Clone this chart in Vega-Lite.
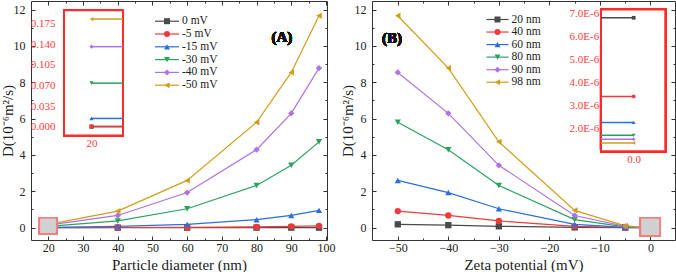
{
  "$schema": "https://vega.github.io/schema/vega-lite/v6.json",
  "padding": 0,
  "data": {"values": [
    {"d":20,"z":0,"D":0.00000681,"zl":"0 mV","dl":"20 nm"},
    {"d":40,"z":0,"D":0.00000339,"zl":"0 mV","dl":"40 nm"},
    {"d":60,"z":0,"D":0.00000226,"zl":"0 mV","dl":"60 nm"},
    {"d":80,"z":0,"D":0.0000017,"zl":"0 mV","dl":"80 nm"},
    {"d":90,"z":0,"D":0.00000153,"zl":"0 mV","dl":"90 nm"},
    {"d":98,"z":0,"D":0.00000137,"zl":"0 mV","dl":"98 nm"},
    {"d":20,"z":-5,"D":0.0005,"zl":"-5 mV","dl":"20 nm"},
    {"d":40,"z":-5,"D":0.008,"zl":"-5 mV","dl":"40 nm"},
    {"d":60,"z":-5,"D":0.02,"zl":"-5 mV","dl":"60 nm"},
    {"d":80,"z":-5,"D":0.04,"zl":"-5 mV","dl":"80 nm"},
    {"d":90,"z":-5,"D":0.07,"zl":"-5 mV","dl":"90 nm"},
    {"d":98,"z":-5,"D":0.1,"zl":"-5 mV","dl":"98 nm"},
    {"d":20,"z":-15,"D":0.014,"zl":"-15 mV","dl":"20 nm"},
    {"d":40,"z":-15,"D":0.065,"zl":"-15 mV","dl":"40 nm"},
    {"d":60,"z":-15,"D":0.18,"zl":"-15 mV","dl":"60 nm"},
    {"d":80,"z":-15,"D":0.44,"zl":"-15 mV","dl":"80 nm"},
    {"d":90,"z":-15,"D":0.67,"zl":"-15 mV","dl":"90 nm"},
    {"d":98,"z":-15,"D":0.95,"zl":"-15 mV","dl":"98 nm"},
    {"d":20,"z":-30,"D":0.074,"zl":"-30 mV","dl":"20 nm"},
    {"d":40,"z":-30,"D":0.37,"zl":"-30 mV","dl":"40 nm"},
    {"d":60,"z":-30,"D":1.04,"zl":"-30 mV","dl":"60 nm"},
    {"d":80,"z":-30,"D":2.32,"zl":"-30 mV","dl":"80 nm"},
    {"d":90,"z":-30,"D":3.43,"zl":"-30 mV","dl":"90 nm"},
    {"d":98,"z":-30,"D":4.72,"zl":"-30 mV","dl":"98 nm"},
    {"d":20,"z":-40,"D":0.136,"zl":"-40 mV","dl":"20 nm"},
    {"d":40,"z":-40,"D":0.67,"zl":"-40 mV","dl":"40 nm"},
    {"d":60,"z":-40,"D":1.93,"zl":"-40 mV","dl":"60 nm"},
    {"d":80,"z":-40,"D":4.29,"zl":"-40 mV","dl":"80 nm"},
    {"d":90,"z":-40,"D":6.29,"zl":"-40 mV","dl":"90 nm"},
    {"d":98,"z":-40,"D":8.78,"zl":"-40 mV","dl":"98 nm"},
    {"d":20,"z":-50,"D":0.183,"zl":"-50 mV","dl":"20 nm"},
    {"d":40,"z":-50,"D":0.91,"zl":"-50 mV","dl":"40 nm"},
    {"d":60,"z":-50,"D":2.6,"zl":"-50 mV","dl":"60 nm"},
    {"d":80,"z":-50,"D":5.8,"zl":"-50 mV","dl":"80 nm"},
    {"d":90,"z":-50,"D":8.54,"zl":"-50 mV","dl":"90 nm"},
    {"d":98,"z":-50,"D":11.66,"zl":"-50 mV","dl":"98 nm"}
  ]},
  "spacing": 5,
  "hconcat": [
    {
      "width": 296, "height": 239,
      "layer": [
        {"mark": {"type": "point", "opacity": 0},
         "encoding": {
           "x": {"datum": 20, "type": "quantitative", "scale": {"domain": [15, 100.3], "nice": false, "zero": false},
                 "axis": {"orient": "bottom", "values": [20,30,40,50,60,70,80,90,100], "tickSize": -4, "labelPadding": 6, "labelOverlap": false, "labelFlush": false, "title": "Particle diameter (nm)", "titlePadding": 4}},
           "y": {"datum": 0, "type": "quantitative", "scale": {"domain": [-0.68, 12.47], "nice": false, "zero": false},
                 "axis": {"orient": "left", "values": [0,2,4,6,8,10,12], "tickSize": -4, "labelPadding": 10, "labelOverlap": false, "title": "D(10⁻⁶m²/s)", "titleX": -15.5}}
         }},
        {
          "layer": [
            {"mark": {"type": "line", "strokeWidth": 1.2},
             "encoding": {
               "x": {"field": "d", "type": "quantitative", "scale": {"domain": [15, 100.3], "nice": false, "zero": false}, "axis": null},
               "y": {"field": "D", "type": "quantitative", "scale": {"domain": [-0.68, 12.47], "nice": false, "zero": false}, "axis": null},
               "color": {"field": "zl", "type": "nominal",
                         "scale": {"domain": ["0 mV","-5 mV","-15 mV","-30 mV","-40 mV","-50 mV"], "range": ["#4a4a4a","#f03a3a","#2a6fdb","#2ca25f","#b070e6","#d19e1c"]},
                         "legend": null}
             }},
            {"mark": {"type": "point", "filled": true, "size": 40, "opacity": 1},
             "encoding": {
               "x": {"field": "d", "type": "quantitative", "axis": null},
               "y": {"field": "D", "type": "quantitative", "axis": null},
               "color": {"field": "zl", "type": "nominal", "legend": null},
               "shape": {"field": "zl", "type": "nominal", "scale": {"domain": ["0 mV","-5 mV","-15 mV","-30 mV","-40 mV","-50 mV"], "range": ["square","circle","triangle-up","triangle-down","diamond","triangle-left"]}, "legend": null}
             }},
            {"mark": {"type": "rect", "fill": "#d0d0d0", "fillOpacity": 0.6, "stroke": "#f08080", "strokeWidth": 1.5},
             "encoding": {
               "x": {"datum": 17.4, "type": "quantitative", "axis": null}, "x2": {"datum": 22.4},
               "y": {"datum": -0.33, "type": "quantitative", "axis": null}, "y2": {"datum": 0.55}
             }},
            {"mark": {"type": "text", "font": "Liberation Serif", "fontSize": 15, "fontWeight": "bold", "fill": "#111", "stroke": null},
             "encoding": {
               "x": {"datum": 87.3, "type": "quantitative", "axis": null},
               "y": {"datum": 10.49, "type": "quantitative", "axis": null},
               "text": {"value": "(A)"}
             }}
          ]
        },
        {"mark": {"type": "point", "opacity": 0},
         "encoding": {
           "x": {"datum": 20, "type": "quantitative", "scale": {"domain": [15, 100.3], "nice": false, "zero": false},
                 "axis": {"orient": "top", "values": [20,30,40,50,60,70,80,90,100], "tickSize": -4, "labels": false, "title": null}},
           "y": {"datum": 0, "type": "quantitative", "scale": {"domain": [-0.68, 12.47], "nice": false, "zero": false},
                 "axis": {"orient": "right", "values": [0,2,4,6,8,10,12], "tickSize": -4, "labels": false, "title": null}}
         }},
        {"mark": {"type": "point", "opacity": 0},
         "encoding": {
           "x": {"datum": 20, "type": "quantitative", "scale": {"domain": [15, 100.3], "nice": false, "zero": false},
                 "axis": {"orient": "bottom", "values": [25,35,45,55,65,75,85,95], "tickSize": -2, "labels": false, "domain": false, "title": null}},
           "y": {"datum": 0, "type": "quantitative", "scale": {"domain": [-0.68, 12.47], "nice": false, "zero": false},
                 "axis": {"orient": "left", "values": [1,3,5,7,9,11], "tickSize": -2, "labels": false, "domain": false, "title": null}}
         }},
        {"mark": {"type": "point", "opacity": 0},
         "encoding": {
           "x": {"datum": 20, "type": "quantitative", "scale": {"domain": [15, 100.3], "nice": false, "zero": false},
                 "axis": {"orient": "top", "values": [25,35,45,55,65,75,85,95], "tickSize": -2, "labels": false, "domain": false, "title": null}},
           "y": {"datum": 0, "type": "quantitative", "scale": {"domain": [-0.68, 12.47], "nice": false, "zero": false},
                 "axis": {"orient": "right", "values": [1,3,5,7,9,11], "tickSize": -2, "labels": false, "domain": false, "title": null}}
         }},
        {
          "transform": [{"filter": "datum.d == 20"}],
          "layer": [
            {"mark": {"type": "rule", "strokeWidth": 1.2},
             "encoding": {
               "x": {"datum": 0, "type": "quantitative", "scale": {"domain": [0, 1], "range": [124, 148]}, "axis": null},
               "x2": {"datum": 1},
               "y": {"field": "zl", "type": "nominal", "scale": {"type": "point", "padding": 0, "domain": ["0 mV","-5 mV","-15 mV","-30 mV","-40 mV","-50 mV"], "range": [20.2, 84.2]}, "axis": null},
               "color": {"field": "zl", "type": "nominal", "legend": null}
             }},
            {"mark": {"type": "point", "filled": true, "size": 36, "opacity": 1},
             "encoding": {
               "x": {"datum": 0.5, "type": "quantitative", "axis": null},
               "y": {"field": "zl", "type": "nominal", "axis": null},
               "color": {"field": "zl", "type": "nominal", "legend": null},
               "shape": {"field": "zl", "type": "nominal", "legend": null}
             }},
            {"mark": {"type": "text", "align": "left", "baseline": "middle", "dx": 3, "font": "Liberation Serif", "fontSize": 11.5, "fill": "#222"},
             "encoding": {
               "x": {"datum": 1, "type": "quantitative", "axis": null},
               "y": {"field": "zl", "type": "nominal", "axis": null},
               "text": {"field": "zl"}
             }}
          ]
        },
        {
          "layer": [
            {"mark": {"type": "rect", "fill": "white", "stroke": "#ff2a2a", "strokeWidth": 2},
             "encoding": {
               "x": {"datum": 17.2, "type": "quantitative", "scale": {"domain": [17.2, 23.2], "range": [33, 92], "nice": false, "zero": false},
                     "axis": {"orient": "bottom", "offset": -104.5, "values": [20], "format": "d", "domain": false, "ticks": false, "labelPadding": 2, "labelColor": "#ff3b3b", "labelFontSize": 11, "title": null}},
               "x2": {"datum": 23.2},
               "y": {"datum": -0.015, "type": "quantitative", "scale": {"domain": [-0.015, 0.198], "range": [134.5, 9.2], "nice": false, "zero": false},
                     "axis": {"orient": "left", "offset": -33, "values": [0,0.035,0.07,0.105,0.14,0.175], "format": ".3f", "domain": false, "ticks": false, "labelPadding": 9, "labelColor": "#ff3b3b", "labelFontSize": 11, "title": null}},
               "y2": {"datum": 0.198}
             }},
            {"transform": [{"filter": "datum.d == 20"}],
             "mark": {"type": "rule", "strokeWidth": 1.5},
             "encoding": {
               "x": {"field": "d", "type": "quantitative"}, "x2": {"datum": 23.2},
               "y": {"field": "D", "type": "quantitative"},
               "color": {"field": "zl", "type": "nominal", "legend": null}
             }},
            {"transform": [{"filter": "datum.d == 20"}],
             "mark": {"type": "point", "filled": true, "size": 18, "opacity": 1},
             "encoding": {
               "x": {"field": "d", "type": "quantitative"},
               "y": {"field": "D", "type": "quantitative"},
               "color": {"field": "zl", "type": "nominal", "legend": null},
               "shape": {"field": "zl", "type": "nominal", "legend": null}
             }}
          ]
        }
      ],
      "resolve": {"scale": {"x": "independent", "y": "independent"}, "axis": {"x": "independent", "y": "independent"}}
    },
    {
      "width": 303, "height": 239,
      "layer": [
        {"mark": {"type": "point", "opacity": 0},
         "encoding": {
           "x": {"datum": 0, "type": "quantitative", "scale": {"domain": [-55.1, 4.85], "nice": false, "zero": false},
                 "axis": {"orient": "bottom", "values": [-50,-40,-30,-20,-10,0], "tickSize": -4, "labelPadding": 6, "labelOverlap": false, "labelFlush": false, "title": "Zeta potential (mV)", "titlePadding": 4}},
           "y": {"datum": 0, "type": "quantitative", "scale": {"domain": [-0.68, 12.47], "nice": false, "zero": false},
                 "axis": {"orient": "left", "values": [0,2,4,6,8,10,12], "tickSize": -4, "labelPadding": 10, "labelOverlap": false, "title": "D(10⁻⁶m²/s)", "titleX": -17}}
         }},
        {
          "layer": [
            {"mark": {"type": "line", "strokeWidth": 1.2},
             "encoding": {
               "x": {"field": "z", "type": "quantitative", "scale": {"domain": [-55.1, 4.85], "nice": false, "zero": false}, "axis": null},
               "y": {"field": "D", "type": "quantitative", "scale": {"domain": [-0.68, 12.47], "nice": false, "zero": false}, "axis": null},
               "color": {"field": "dl", "type": "nominal",
                         "scale": {"domain": ["20 nm","40 nm","60 nm","80 nm","90 nm","98 nm"], "range": ["#4a4a4a","#f03a3a","#2a6fdb","#2ca25f","#b070e6","#d19e1c"]},
                         "legend": null}
             }},
            {"mark": {"type": "point", "filled": true, "size": 40, "opacity": 1},
             "encoding": {
               "x": {"field": "z", "type": "quantitative", "axis": null},
               "y": {"field": "D", "type": "quantitative", "axis": null},
               "color": {"field": "dl", "type": "nominal", "legend": null},
               "shape": {"field": "dl", "type": "nominal", "scale": {"domain": ["20 nm","40 nm","60 nm","80 nm","90 nm","98 nm"], "range": ["square","circle","triangle-up","triangle-down","diamond","triangle-left"]}, "legend": null}
             }},
            {"mark": {"type": "rect", "fill": "#d0d0d0", "fillOpacity": 0.6, "stroke": "#f08080", "strokeWidth": 1.5},
             "encoding": {
               "x": {"datum": -2.0, "type": "quantitative", "axis": null}, "x2": {"datum": 1.88},
               "y": {"datum": -0.44, "type": "quantitative", "axis": null}, "y2": {"datum": 0.55}
             }},
            {"mark": {"type": "text", "font": "Liberation Serif", "fontSize": 15, "fontWeight": "bold", "fill": "#111", "stroke": null},
             "encoding": {
               "x": {"datum": -51.15, "type": "quantitative", "axis": null},
               "y": {"datum": 10.45, "type": "quantitative", "axis": null},
               "text": {"value": "(B)"}
             }}
          ]
        },
        {"mark": {"type": "point", "opacity": 0},
         "encoding": {
           "x": {"datum": 0, "type": "quantitative", "scale": {"domain": [-55.1, 4.85], "nice": false, "zero": false},
                 "axis": {"orient": "top", "values": [-50,-40,-30,-20,-10,0], "tickSize": -4, "labels": false, "title": null}},
           "y": {"datum": 0, "type": "quantitative", "scale": {"domain": [-0.68, 12.47], "nice": false, "zero": false},
                 "axis": {"orient": "right", "values": [0,2,4,6,8,10,12], "tickSize": -4, "labels": false, "title": null}}
         }},
        {"mark": {"type": "point", "opacity": 0},
         "encoding": {
           "x": {"datum": 0, "type": "quantitative", "scale": {"domain": [-55.1, 4.85], "nice": false, "zero": false},
                 "axis": {"orient": "bottom", "values": [-45,-35,-25,-15,-5], "tickSize": -2, "labels": false, "domain": false, "title": null}},
           "y": {"datum": 0, "type": "quantitative", "scale": {"domain": [-0.68, 12.47], "nice": false, "zero": false},
                 "axis": {"orient": "left", "values": [1,3,5,7,9,11], "tickSize": -2, "labels": false, "domain": false, "title": null}}
         }},
        {"mark": {"type": "point", "opacity": 0},
         "encoding": {
           "x": {"datum": 0, "type": "quantitative", "scale": {"domain": [-55.1, 4.85], "nice": false, "zero": false},
                 "axis": {"orient": "top", "values": [-45,-35,-25,-15,-5], "tickSize": -2, "labels": false, "domain": false, "title": null}},
           "y": {"datum": 0, "type": "quantitative", "scale": {"domain": [-0.68, 12.47], "nice": false, "zero": false},
                 "axis": {"orient": "right", "values": [1,3,5,7,9,11], "tickSize": -2, "labels": false, "domain": false, "title": null}}
         }},
        {
          "transform": [{"filter": "datum.z == 0"}],
          "layer": [
            {"mark": {"type": "rule", "strokeWidth": 1.2},
             "encoding": {
               "x": {"datum": 0, "type": "quantitative", "scale": {"domain": [0, 1], "range": [114.5, 136.5]}, "axis": null},
               "x2": {"datum": 1},
               "y": {"field": "dl", "type": "nominal", "scale": {"type": "point", "padding": 0, "domain": ["20 nm","40 nm","60 nm","80 nm","90 nm","98 nm"], "range": [18.5, 81.2]}, "axis": null},
               "color": {"field": "dl", "type": "nominal", "legend": null}
             }},
            {"mark": {"type": "point", "filled": true, "size": 36, "opacity": 1},
             "encoding": {
               "x": {"datum": 0.5, "type": "quantitative", "axis": null},
               "y": {"field": "dl", "type": "nominal", "axis": null},
               "color": {"field": "dl", "type": "nominal", "legend": null},
               "shape": {"field": "dl", "type": "nominal", "legend": null}
             }},
            {"mark": {"type": "text", "align": "left", "baseline": "middle", "dx": 3, "font": "Liberation Serif", "fontSize": 11.5, "fill": "#222"},
             "encoding": {
               "x": {"datum": 1, "type": "quantitative", "axis": null},
               "y": {"field": "dl", "type": "nominal", "axis": null},
               "text": {"field": "dl"}
             }}
          ]
        },
        {
          "layer": [
            {"mark": {"type": "rect", "fill": "white", "stroke": "#ff2a2a", "strokeWidth": 2},
             "encoding": {
               "x": {"datum": -1.035, "type": "quantitative", "scale": {"domain": [-1.035, 1], "range": [229, 293.3], "nice": false, "zero": false},
                     "axis": {"orient": "bottom", "offset": -88.8, "values": [0], "format": ".1f", "domain": false, "ticks": false, "labelPadding": 2, "labelColor": "#ff3b3b", "labelFontSize": 11, "title": null}},
               "x2": {"datum": 1},
               "y": {"datum": 0.00000101, "type": "quantitative", "scale": {"domain": [0.00000101, 0.00000717], "range": [150.2, 8.5], "nice": false, "zero": false},
                     "axis": {"orient": "left", "offset": -229, "values": [0.000002,0.000003,0.000004,0.000005,0.000006,0.000007], "labelExpr": "replace(format(datum.value, '.1e'), 'e', 'E')", "domain": false, "ticks": false, "labelPadding": 2.3, "labelColor": "#ff3b3b", "labelFontSize": 11, "title": null}},
               "y2": {"datum": 0.00000717}
             }},
            {"transform": [{"filter": "datum.z == 0"}],
             "mark": {"type": "rule", "strokeWidth": 1.5},
             "encoding": {
               "x": {"field": "z", "type": "quantitative"}, "x2": {"datum": -1.035},
               "y": {"field": "D", "type": "quantitative"},
               "color": {"field": "dl", "type": "nominal", "legend": null}
             }},
            {"transform": [{"filter": "datum.z == 0"}],
             "mark": {"type": "point", "filled": true, "size": 14, "opacity": 1},
             "encoding": {
               "x": {"field": "z", "type": "quantitative"},
               "y": {"field": "D", "type": "quantitative"},
               "color": {"field": "dl", "type": "nominal", "legend": null},
               "shape": {"field": "dl", "type": "nominal", "legend": null}
             }}
          ]
        }
      ],
      "resolve": {"scale": {"x": "independent", "y": "independent"}, "axis": {"x": "independent", "y": "independent"}}
    }
  ],
  "resolve": {"scale": {"color": "independent", "shape": "independent"}},
  "config": {
    "view": {"stroke": null},
    "font": "Liberation Serif",
    "axis": {"labelFont": "Liberation Serif", "titleFont": "Liberation Serif", "labelFontSize": 12, "titleFontSize": 15, "titleFontWeight": "normal", "labelColor": "#222", "titleColor": "#222", "domainColor": "#333", "tickColor": "#333", "grid": false, "domainWidth": 1, "labelOverlap": false}
  }
}
